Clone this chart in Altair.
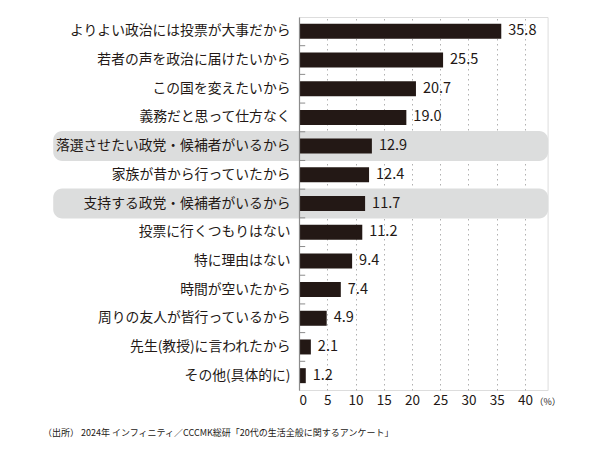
import altair as alt
import pandas as pd

# Survey answers (reasons for voting), share in %
reasons = [
    "よりよい政治には投票が大事だから",
    "若者の声を政治に届けたいから",
    "この国を変えたいから",
    "義務だと思って仕方なく",
    "落選させたい政党・候補者がいるから",
    "家族が昔から行っていたから",
    "支持する政党・候補者がいるから",
    "投票に行くつもりはない",
    "特に理由はない",
    "時間が空いたから",
    "周りの友人が皆行っているから",
    "先生(教授)に言われたから",
    "その他(具体的に)",
]
shares = [35.8, 25.5, 20.7, 19.0, 12.9, 12.4, 11.7, 11.2, 9.4, 7.4, 4.9, 2.1, 1.2]
highlighted = [
    "落選させたい政党・候補者がいるから",
    "支持する政党・候補者がいるから",
]
x_ticks = [0, 5, 10, 15, 20, 25, 30, 35, 40]

FONT = "Noto Sans CJK JP"
INK = "#231815"

df = pd.DataFrame({"reason": reasons, "share": shares})
df["label"] = df["share"].map(lambda v: f"{v:.1f}")
hi_df = pd.DataFrame({"reason": highlighted})
sep_df = pd.DataFrame({"reason": reasons[1:]})

xscale = alt.Scale(domain=[0, 44], nice=False, zero=False)
yscale = alt.Scale(domain=reasons, paddingInner=0, paddingOuter=0)

y_axis = alt.Axis(
    ticks=False,
    domain=True,
    domainColor="#8c8c8c",
    domainWidth=1.2,
    labelFont=FONT,
    labelFontSize=13.8,
    labelColor=INK,
    labelPadding=9,
    labelLimit=400,
    zindex=1,
)

x_axis = alt.Axis(
    values=x_ticks,
    tickCount=9,
    grid=True,
    gridColor="#b0b0b0",
    gridDash=[1.5, 3.5],
    gridWidth=1,
    domain=False,
    ticks=False,
    labelOverlap=False,
    labelFont=FONT,
    labelFontSize=13.5,
    labelColor=INK,
    labelPadding=3,
    title="（%）",
    titleFont=FONT,
    titleFontSize=9,
    titleFontWeight="normal",
    titleColor=INK,
    titleX=235,
    titleY=11,
    titleAlign="left",
    titleBaseline="middle",
)

y_enc = alt.Y("reason:N", scale=yscale, sort=reasons, title=None, axis=y_axis)

# rounded gray band behind the highlighted answers (spans the label column too)
band = alt.Chart(hi_df).mark_bar(size=30, cornerRadius=9, color="#dcdddd").encode(
    x=alt.X(datum=-43.5, scale=xscale, axis=x_axis),
    x2=alt.X2(datum=44.1),
    y=y_enc,
)

# short inward ticks on the category axis between rows
seps = alt.Chart(sep_df).mark_rule(color="#8c8c8c", strokeWidth=1).encode(
    x=alt.X(datum=0, scale=xscale, axis=x_axis),
    x2=alt.X2(datum=1.1),
    y=alt.Y("reason:N", scale=yscale, sort=reasons, bandPosition=0, axis=y_axis, title=None),
)

bars = alt.Chart(df).mark_bar(size=15, color=INK).encode(
    x=alt.X("share:Q", scale=xscale, axis=x_axis),
    y=y_enc,
)

values = alt.Chart(df).mark_text(
    align="left", baseline="middle", dx=7, font=FONT, fontSize=14.5, color=INK
).encode(
    x=alt.X("share:Q", scale=xscale, axis=x_axis),
    y=y_enc,
    text="label:N",
)

chart = (
    alt.layer(band, seps, bars, values)
    .properties(
        width=248.6,
        height=373,
        autosize=alt.AutoSizeParams(type="none"),
        padding={"left": 299, "top": 17, "right": 52.4, "bottom": 60},
        title=alt.TitleParams(
            text="（出所） 2024年 インフィニティ／CCCMK総研「20代の生活全般に関するアンケート」",
            orient="bottom",
            anchor="start",
            frame="group",
            dx=-256,
            offset=22,
            font=FONT,
            fontSize=9,
            fontWeight="normal",
            color=INK,
        ),
    )
    .configure_view(stroke=None)
    .configure_axisX(labelOverlap=False)
    .configure(background="white")
)

chart.save("out.html", embed_options={"renderer": "svg", "actions": False})
